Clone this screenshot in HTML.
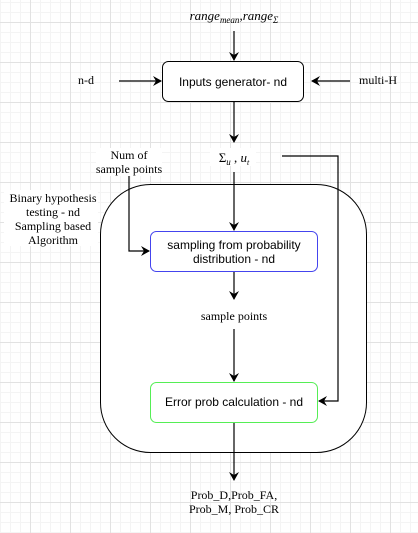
<!DOCTYPE html>
<html><head><style>
html,body{margin:0;padding:0;}
body{width:418px;height:533px;overflow:hidden;background:#fff;
background-image:
linear-gradient(#e2e2e2 1px,transparent 1px),
linear-gradient(90deg,#e2e2e2 1px,transparent 1px),
linear-gradient(#f4f4f4 1px,transparent 1px),
linear-gradient(90deg,#f4f4f4 1px,transparent 1px);
background-size:40px 40px,40px 40px,10px 10px,10px 10px;
background-position:0 22px,30px 0,0 2px,0 0;}
svg{position:absolute;left:0;top:0;}
</style></head><body>
<svg width="418" height="533" xmlns="http://www.w3.org/2000/svg">
<defs><marker id="a" markerWidth="10" markerHeight="10" refX="8" refY="5" orient="auto" markerUnits="userSpaceOnUse"><path d="M0,0 L9,5 L0,10 L3,5 Z" fill="#000"/></marker></defs>
<g fill="#fff">
<rect x="4" y="190" width="94" height="56"/>
</g>
<rect x="100.5" y="184.5" width="266" height="268" rx="50" fill="#fff" stroke="#000" stroke-width="1"/>
<rect x="162.5" y="61.5" width="141" height="40" rx="6" fill="#fff" stroke="#000"/>
<rect x="150.5" y="231.5" width="167" height="40" rx="6" fill="#fff" stroke="#4444ee"/>
<rect x="150.5" y="382.5" width="167" height="40" rx="6" fill="#fff" stroke="#55ee55"/>
<g stroke="#000" fill="none" stroke-width="1.2">
<line x1="234" y1="31" x2="234" y2="60" marker-end="url(#a)"/>
<line x1="119" y1="81" x2="161" y2="81" marker-end="url(#a)"/>
<line x1="350" y1="81" x2="312" y2="81" marker-end="url(#a)"/>
<line x1="234" y1="102" x2="234" y2="142" marker-end="url(#a)"/>
<line x1="234" y1="172" x2="234" y2="230" marker-end="url(#a)"/>
<polyline points="282,156 338,156 338,401 319,401" marker-end="url(#a)"/>
<polyline points="129,175 129,251 149,251" marker-end="url(#a)"/>
<line x1="234" y1="272" x2="234" y2="299" marker-end="url(#a)"/>
<line x1="234" y1="329" x2="234" y2="381" marker-end="url(#a)"/>
<line x1="234" y1="423" x2="234" y2="480" marker-end="url(#a)"/>
</g>
<g fill="#fff">
<rect x="96" y="148" width="66" height="28"/>
<rect x="210" y="148" width="46" height="18"/>
</g>
<g font-family="Liberation Serif, serif" font-size="12" fill="#000" text-anchor="middle">
<text x="234" y="20" font-style="italic" font-size="13">range<tspan font-size="9" dy="3">mean</tspan><tspan dy="-3">,range</tspan><tspan font-size="9" dy="3">Σ</tspan></text>
<text x="86" y="84">n-d</text>
<text x="378" y="84">multi-H</text>
<text x="234" y="162" font-size="13">Σ<tspan font-size="9" font-style="italic" dy="3">u</tspan><tspan dy="-3"> , </tspan><tspan font-style="italic">u</tspan><tspan font-size="8" font-style="italic" dy="3">t</tspan></text>
<text x="129" y="159">Num of</text>
<text x="129" y="173">sample points</text>
<text x="53" y="202">Binary hypothesis</text>
<text x="53" y="216">testing - nd</text>
<text x="53" y="230">Sampling based</text>
<text x="53" y="244">Algorithm</text>
<text x="234" y="320">sample points</text>
<text x="234" y="499">Prob_D,Prob_FA,</text>
<text x="234" y="513">Prob_M, Prob_CR</text>
</g>
<g font-family="Liberation Sans, sans-serif" font-size="12" fill="#000" text-anchor="middle">
<text x="233" y="86">Inputs generator- nd</text>
<text x="234" y="249">sampling from probability</text>
<text x="234" y="263">distribution - nd</text>
<text x="234" y="406">Error prob calculation - nd</text>
</g>
</svg>
</body></html>
